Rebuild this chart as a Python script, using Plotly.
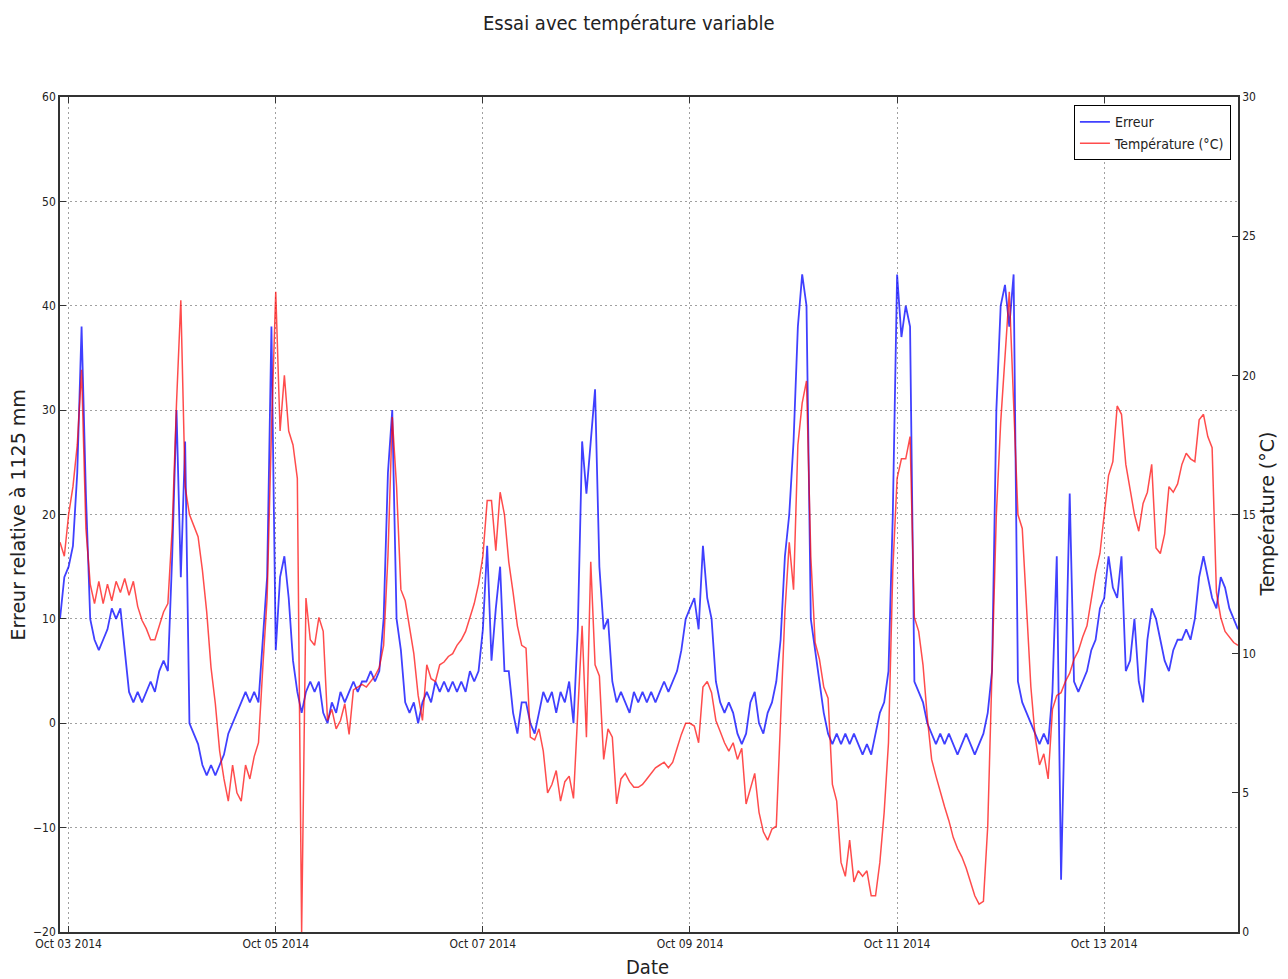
import pandas as pd
import plotly.graph_objects as go

# hourly samples, hours relative to 2014-10-03 00:00
hours = list(range(-2, 272))

erreur = [
    10, 14, 15, 17, 24, 38, 22, 10, 8, 7,          # h -2..7
    8, 9, 11, 10, 11, 7, 3, 2, 3, 2,               # h 8..17
    3, 4, 3, 5, 6, 5, 16, 30, 14, 27,              # h 18..27
    0, -1, -2, -4, -5, -4, -5, -4, -3, -1,         # h 28..37
    0, 1, 2, 3, 2, 3, 2, 8, 14, 38,                # h 38..47
    7, 14, 16, 12, 6, 3, 1, 3, 4, 3,               # h 48..57
    4, 1, 0, 2, 1, 3, 2, 3, 4, 3,                  # h 58..67
    4, 4, 5, 4, 5, 10, 24, 30, 10, 7,              # h 68..77
    2, 1, 2, 0, 2, 3, 2, 4, 3, 4,                  # h 78..87
    3, 4, 3, 4, 3, 5, 4, 5, 9, 17,                 # h 88..97
    6, 11, 15, 5, 5, 1, -1, 2, 2, 0,               # h 98..107
    -1, 1, 3, 2, 3, 1, 3, 2, 4, 0,                 # h 108..117
    9, 27, 22, 27, 32, 15, 9, 10, 4, 2,            # h 118..127
    3, 2, 1, 3, 2, 3, 2, 3, 2, 3,                  # h 128..137
    4, 3, 4, 5, 7, 10, 11, 12, 9, 17,              # h 138..147
    12, 10, 4, 2, 1, 2, 1, -1, -2, -1,             # h 148..157
    2, 3, 0, -1, 1, 2, 4, 8, 16, 20,               # h 158..167
    27, 38, 43, 40, 10, 7, 4, 1, -1, -2,           # h 168..177
    -1, -2, -1, -2, -1, -2, -3, -2, -3, -1,        # h 178..187
    1, 2, 5, 20, 43, 37, 40, 38, 4, 3,             # h 188..197
    2, 0, -1, -2, -1, -2, -1, -2, -3, -2,          # h 198..207
    -1, -2, -3, -2, -1, 1, 5, 30, 40, 42,          # h 208..217
    38, 43, 4, 2, 1, 0, -1, -2, -1, -2,            # h 218..227
    3, 16, -15, 4, 22, 4, 3, 4, 5, 7,              # h 228..237
    8, 11, 12, 16, 13, 12, 16, 5, 6, 10,           # h 238..247
    4, 2, 8, 11, 10, 8, 6, 5, 7, 8,                # h 248..257
    8, 9, 8, 10, 14, 16, 14, 12, 11, 14,           # h 258..267
    13, 11, 10, 9,                                 # h 268..271
]

temperature = [
    14, 13.5, 15, 16, 17.5, 20.2, 14.5, 12.5, 11.8, 12.6,
    11.8, 12.5, 11.9, 12.6, 12.2, 12.7, 12.1, 12.6, 11.7, 11.2,
    10.9, 10.5, 10.5, 11, 11.5, 11.8, 14.5, 19, 22.7, 16,
    15, 14.6, 14.2, 13, 11.5, 9.5, 8.2, 6.5, 5.5, 4.7,
    6, 5, 4.7, 6, 5.5, 6.3, 6.8, 9.5, 12, 18,
    23, 18, 20, 18, 17.5, 16.3, 0, 12, 10.5, 10.3,
    11.3, 10.8, 7.6, 8, 7.3, 7.6, 8.2, 7.1, 8.7, 8.8,
    8.9, 8.8, 9, 9.2, 9.5, 10.3, 13.5, 18.5, 16, 12.3,
    11.9, 11, 10, 8.5, 7.6, 9.6, 9.1, 9, 9.6, 9.7,
    9.9, 10, 10.3, 10.5, 10.8, 11.3, 11.8, 12.5, 13.5, 15.5,
    15.5, 13.7, 15.8, 15, 13.3, 12.2, 11, 10.3, 10.2, 7,
    6.9, 7.3, 6.5, 5, 5.3, 5.8, 4.7, 5.4, 5.6, 4.8,
    7.8, 11, 7, 13.3, 9.6, 9.2, 6.2, 7.3, 7, 4.6,
    5.5, 5.7, 5.4, 5.2, 5.2, 5.3, 5.5, 5.7, 5.9, 6,
    6.1, 5.9, 6.1, 6.6, 7.1, 7.5, 7.5, 7.4, 6.8, 8.8,
    9, 8.6, 7.6, 7.2, 6.8, 6.5, 6.8, 6.2, 6.6, 4.6,
    5.2, 5.7, 4.3, 3.6, 3.3, 3.7, 3.8, 7.5, 11.5, 14,
    12.3, 17.5, 19, 19.8, 13.5, 10.4, 9.8, 8.8, 8.4, 5.3,
    4.7, 2.5, 2, 3.3, 1.8, 2.2, 2, 2.2, 1.3, 1.3,
    2.5, 4.3, 6.8, 13, 16.3, 17, 17, 17.8, 11.3, 10.8,
    9.6, 7.7, 6.2, 5.6, 5, 4.5, 4, 3.4, 3, 2.7,
    2.3, 1.8, 1.3, 1, 1.1, 3.8, 9.5, 15, 18.3, 20.8,
    23, 19, 15, 14.5, 11.5, 8.8, 7, 6, 6.4, 5.5,
    8, 8.5, 8.6, 9, 9.3, 9.8, 10.1, 10.6, 11, 12,
    12.9, 13.6, 15, 16.4, 16.9, 18.9, 18.6, 16.8, 15.9, 15,
    14.4, 15.4, 15.8, 16.8, 13.8, 13.6, 14.3, 16, 15.8, 16.1,
    16.8, 17.2, 17, 16.9, 18.4, 18.6, 17.8, 17.4, 12.2, 11.3,
    10.8, 10.6, 10.4, 10.3,
]

tick_dates = ["2014-10-03", "2014-10-05", "2014-10-07", "2014-10-09", "2014-10-11", "2014-10-13"]
tick_labels = ["Oct 03 2014", "Oct 05 2014", "Oct 07 2014", "Oct 09 2014", "Oct 11 2014", "Oct 13 2014"]

t0 = pd.Timestamp("2014-10-03 00:00")
times = [t0 + pd.Timedelta(hours=h) for h in hours]

COND = "DejaVu Sans Condensed, Liberation Sans Narrow, DejaVu Sans, sans-serif"
REG = "DejaVu Sans, sans-serif"

fig = go.Figure()
fig.add_trace(go.Scatter(x=times, y=erreur, name="Erreur", mode="lines",
                         line=dict(color="rgba(0,0,255,0.75)", width=1.8), yaxis="y"))
fig.add_trace(go.Scatter(x=times, y=temperature, name="Température (°C)", mode="lines",
                         line=dict(color="rgba(255,0,0,0.7)", width=1.5), yaxis="y2"))

grid = dict(showgrid=True, gridcolor="#a0a0a0", griddash="2px,3px", gridwidth=1)

fig.update_layout(
    width=1288, height=979,
    margin=dict(l=60, r=50, t=97, b=47),
    paper_bgcolor="white", plot_bgcolor="white",
    font=dict(family=COND, size=12, color="#222"),
    showlegend=True,
    legend=dict(x=0.994, y=0.99, xanchor="right", yanchor="top",
                bgcolor="white", bordercolor="black", borderwidth=1,
                font=dict(family=COND, size=14, color="#222")),
    xaxis=dict(type="date", range=[times[0], times[-1]],
               tickmode="array", tickvals=tick_dates, ticktext=tick_labels,
               showline=True, linecolor="#333", linewidth=1.5, mirror="ticks",
               ticks="inside", ticklen=6, tickcolor="#333", zeroline=False,
               tickfont=dict(family=COND, size=12), **grid),
    yaxis=dict(range=[-20, 60], dtick=10, tick0=0,
               showline=True, linecolor="#333", linewidth=1.5, mirror=True,
               ticks="inside", ticklen=6, tickcolor="#333", zeroline=False,
               tickfont=dict(family=COND, size=12), **grid),
    yaxis2=dict(range=[0, 30], dtick=5, tick0=0, overlaying="y", side="right",
                showgrid=False, showline=True, linecolor="#333", linewidth=1.5,
                ticks="inside", ticklen=6, tickcolor="#333", zeroline=False,
                tickfont=dict(family=COND, size=12)),
    annotations=[
        dict(text="Essai avec température variable", xref="paper", yref="paper",
             x=0.483, y=1.0886, showarrow=False, font=dict(family=COND, size=20, color="#222"),
             xanchor="center", yanchor="middle"),
        dict(text="Erreur relative à 1125 mm", xref="paper", yref="paper",
             x=-0.0357, y=0.5, showarrow=False, textangle=-90,
             font=dict(family=REG, size=19, color="#222"), xanchor="center", yanchor="middle"),
        dict(text="Température (°C)", xref="paper", yref="paper",
             x=1.0238, y=0.5, showarrow=False, textangle=-90,
             font=dict(family=REG, size=19, color="#222"), xanchor="center", yanchor="middle"),
        dict(text="Date", xref="paper", yref="paper",
             x=0.499, y=-0.0419, showarrow=False,
             font=dict(family=COND, size=20, color="#222"), xanchor="center", yanchor="middle"),
    ],
)

fig.write_html("out.html")
